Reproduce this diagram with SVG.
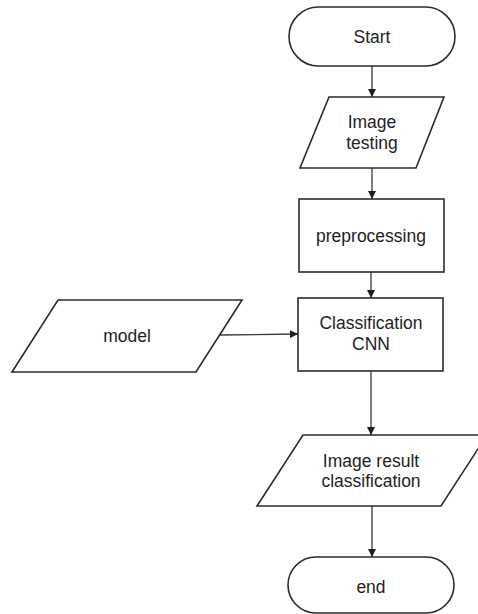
<svg xmlns="http://www.w3.org/2000/svg" width="478" height="614" viewBox="0 0 478 614">
<defs>
<style>
.shape{fill:#ffffff;stroke:#2b2b2b;stroke-width:1.6}
.conn{fill:none;stroke:#3a3a3a;stroke-width:1.3}
.lbl{font-family:"Liberation Sans",Arial,Helvetica,sans-serif;font-size:17.5px;fill:#1e1e1e;text-anchor:middle}
</style>
<marker id="arr" viewBox="0 0 10 10" refX="10" refY="5" markerWidth="8" markerHeight="8" markerUnits="userSpaceOnUse" orient="auto">
<path d="M0,0 L10,5 L0,10 Z" fill="#1e1e1e"/>
</marker>
</defs>
<rect width="478" height="614" fill="#ffffff"/>
<g id="connectors">
<line class="conn" x1="372" y1="66" x2="372" y2="97" marker-end="url(#arr)"/>
<line class="conn" x1="372" y1="168" x2="372" y2="199" marker-end="url(#arr)"/>
<line class="conn" x1="371" y1="272" x2="371" y2="298" marker-end="url(#arr)"/>
<line class="conn" x1="220" y1="335" x2="298" y2="334" marker-end="url(#arr)"/>
<line class="conn" x1="371" y1="371" x2="371" y2="435" marker-end="url(#arr)"/>
<line class="conn" x1="372" y1="506" x2="372" y2="557" marker-end="url(#arr)"/>
</g>
<g id="start">
<rect class="shape" x="289" y="7" width="166" height="59" rx="29.5" ry="29.5"/>
<text class="lbl" x="372" y="43">Start</text>
</g>
<g id="image-testing">
<polygon class="shape" points="329,97 444,97 416,168 300,168"/>
<text class="lbl" x="372" y="128">Image</text>
<text class="lbl" x="372" y="149">testing</text>
</g>
<g id="preprocessing">
<rect class="shape" x="299" y="199" width="145" height="73"/>
<text class="lbl" x="371" y="242">preprocessing</text>
</g>
<g id="classification">
<rect class="shape" x="298" y="298" width="145" height="73"/>
<text class="lbl" x="371" y="329">Classification</text>
<text class="lbl" x="371" y="350">CNN</text>
</g>
<g id="model">
<polygon class="shape" points="58,300 242,300 196,372 12,372"/>
<text class="lbl" x="127" y="342">model</text>
</g>
<g id="image-result">
<polygon class="shape" points="303,435 487,435 441,506 257,506"/>
<text class="lbl" x="371" y="467">Image result</text>
<text class="lbl" x="371" y="487">classification</text>
</g>
<g id="end">
<rect class="shape" x="288" y="557" width="166" height="56" rx="28" ry="28"/>
<text class="lbl" x="371" y="593">end</text>
</g>
</svg>
